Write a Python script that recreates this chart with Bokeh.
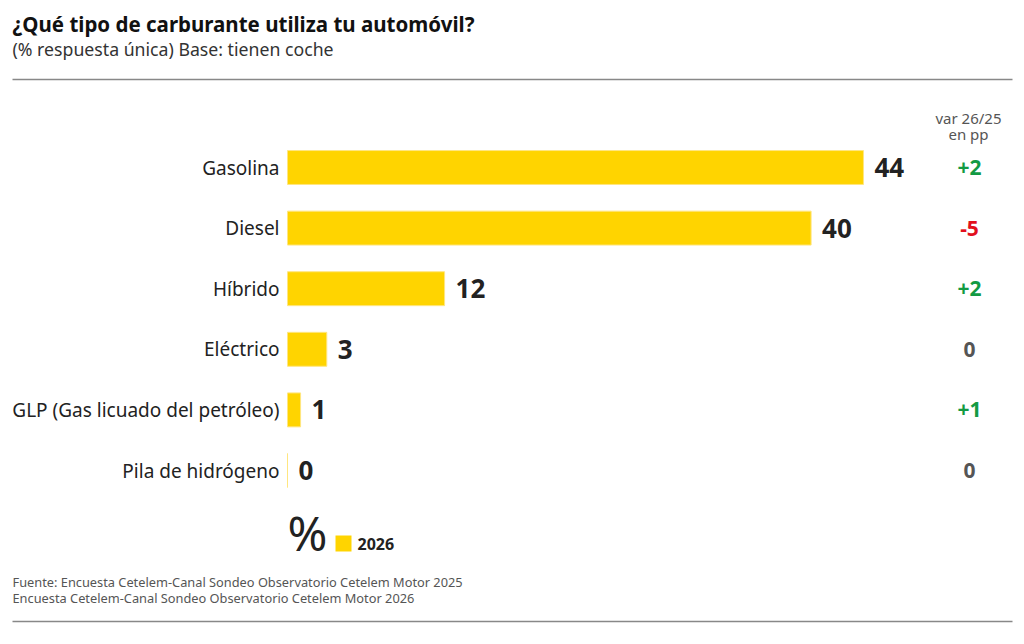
from bokeh.plotting import figure
from bokeh.models import Range1d, ColumnDataSource
from bokeh.core.properties import value
from bokeh.embed import file_html
from bokeh.resources import INLINE

# ---------------- data ----------------
categories = ["Gasolina", "Diesel", "Híbrido", "Eléctrico",
              "GLP (Gas licuado del petróleo)", "Pila de hidrógeno"]
values_2026 = [44, 40, 12, 3, 1, 0]
var_26_25 = [2, -5, 2, 0, 1, 0]
series_name = "2026"

title = "¿Qué tipo de carburante utiliza tu automóvil?"
subtitle = "(% respuesta única) Base: tienen coche"
var_header = ["var 26/25", "en pp"]
footer = ["Fuente: Encuesta Cetelem-Canal Sondeo Observatorio Cetelem Motor 2025",
          "Encuesta Cetelem-Canal Sondeo Observatorio Cetelem Motor 2026"]

# ---------------- layout helpers ----------------
W, H = 1016, 636
PAGE_X0, PAGE_Y0 = 0, 0
BAR_X0 = 287          # page px of value 0
PX_PER_UNIT = 13.09   # px per percentage point
ROW0 = 167            # page px of first row centre
ROW_STEP = 60.6

def px2x(px):
    return (px - BAR_X0) / PX_PER_UNIT

def py2y(py):
    return (py - ROW0) / ROW_STEP

FONT = "Noto Sans"
YELLOW = "#FFD400"
DARK = "#222222"
GREY = "#555555"

p = figure(width=W, height=H, output_backend="svg", toolbar_location=None,
           x_range=Range1d(px2x(PAGE_X0), px2x(PAGE_X0 + W)),
           y_range=Range1d(py2y(PAGE_Y0 + H), py2y(PAGE_Y0)),
           min_border=0, outline_line_color=None)
p.axis.visible = False
p.grid.visible = False
p.background_fill_color = "white"
p.border_fill_color = "white"

rows = list(range(len(categories)))
var_labels = [("+%d" % v) if v > 0 else str(v) for v in var_26_25]
var_colors = ["#139a43" if v > 0 else ("#e2101e" if v < 0 else GREY) for v in var_26_25]

src = ColumnDataSource(dict(
    y=rows, cat=categories, val=values_2026,
    vlab=[str(v) for v in values_2026],
    var=var_labels, vcol=var_colors,
    varx=[px2x(969)] * len(rows),
))

p.hbar(y="y", left=0, right="val", height=0.56, source=src,
       fill_color=YELLOW, line_color="#FFE680", line_width=1)

p.text(x=0, y="y", text="cat", source=src, x_offset=-8,
       text_align="right", text_baseline="middle",
       text_font=value(FONT), text_font_size="19px", text_color=DARK)

p.text(x="val", y="y", text="vlab", source=src, x_offset=11,
       text_align="left", text_baseline="middle",
       text_font=value(FONT), text_font_size="26px", text_font_style="bold",
       text_color=DARK)

p.text(x="varx", y="y", text="var", source=src,
       text_align="center", text_baseline="middle",
       text_font=value(FONT), text_font_size="21px", text_font_style="bold",
       text_color="vcol")

# header of var column
p.text(x=[px2x(968)] * 2, y=[py2y(117), py2y(133)], text=var_header,
       text_align="center", text_baseline="middle",
       text_font=value(FONT), text_font_size="15px", text_color=GREY)

# title and subtitle
p.text(x=[px2x(12)], y=[py2y(23)], text=[title], text_align="left",
       text_baseline="middle", text_font=value(FONT), text_font_size="20.5px",
       text_font_style="bold", text_color="#111111")
p.text(x=[px2x(12)], y=[py2y(48)], text=[subtitle], text_align="left",
       text_baseline="middle", text_font=value(FONT), text_font_size="17.7px",
       text_color="#333333")

# rules
p.segment(x0=[px2x(12)] * 2, x1=[px2x(1012)] * 2,
          y0=[py2y(79), py2y(621)], y1=[py2y(79), py2y(621)],
          line_color="#888888", line_width=1.5)

# legend
p.text(x=[px2x(307)], y=[py2y(532)], text=["%"], text_align="center",
       text_baseline="middle", text_font=value(FONT), text_font_size="48px",
       text_color=DARK)
p.scatter(x=[px2x(343)], y=[py2y(543)], marker="square", size=16,
          fill_color=YELLOW, line_color=None)
p.text(x=[px2x(357)], y=[py2y(543)], text=[series_name], text_align="left",
       text_baseline="middle", text_font=value(FONT), text_font_size="16px",
       text_font_style="bold", text_color=DARK)

# footer
p.text(x=[px2x(12)] * 2, y=[py2y(581), py2y(597)], text=footer,
       text_align="left", text_baseline="middle", text_font=value(FONT),
       text_font_size="12.8px", text_color=GREY)

open("out.html", "w").write(file_html(p, INLINE))
